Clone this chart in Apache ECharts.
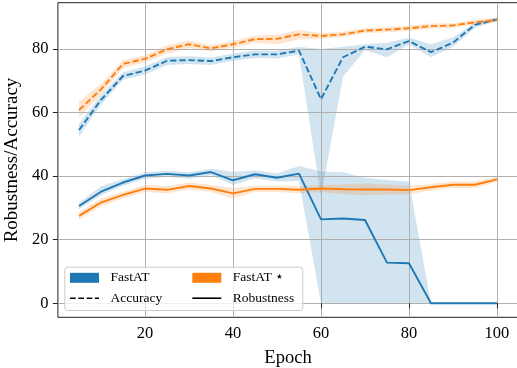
<!DOCTYPE html>
<html><head><meta charset="utf-8">
<script src="https://cdn.jsdelivr.net/npm/echarts@6/dist/echarts.min.js"></script>
<style>html,body{margin:0;padding:0;background:#fff}#c{width:517px;height:368px}</style>
</head><body><div id="c"></div>
<script>
const epochs = [5,10,15,20,25,30,35,40,45,50,55,60,65,70,75,80,85,90,95,100];

const fastAccMean = [54.5,64.0,71.5,73.2,76.3,76.5,76.2,77.4,78.3,78.3,79.5,64.2,77.4,80.7,79.9,82.5,79.0,82.0,87.6,89.3];
const fastAccLo   = [52.5,62.5,70.3,72.0,75.0,75.3,75.0,76.3,77.2,77.0,78.3,33.5,71.3,79.7,77.4,81.5,77.4,80.7,86.7,88.8];
const fastAccHi   = [56.5,65.5,72.7,74.5,77.5,77.7,77.3,78.6,79.5,79.5,80.6,80.0,80.7,81.5,82.0,83.5,81.5,83.6,88.3,89.8];

const fastRobMean = [30.6,35.1,38.0,40.2,40.7,40.2,41.3,38.7,40.6,39.5,40.8,26.4,26.7,26.2,12.8,12.6,0,0,0,0];
const fastRobLo   = [29.6,34.0,37.0,39.2,39.7,39.2,40.3,37.2,39.3,38.3,38.5,0,0,0,0,0,0,0,0,0];
const fastRobHi   = [31.6,36.8,39.0,41.2,41.7,41.2,42.3,41.4,41.8,40.8,43.2,41.5,41.2,39.5,38.8,38.2,0,0,0,0];

const starAccMean = [60.8,67.3,75.3,76.9,79.9,81.5,80.2,81.5,83.1,83.2,84.6,84.1,84.6,85.8,86.1,86.5,87.2,87.4,88.4,89.1];
const starAccLo   = [58.5,65.5,74.0,75.8,78.5,80.3,79.2,80.4,82.0,81.5,83.0,83.2,83.8,85.0,85.3,85.7,86.4,86.7,87.6,88.4];
const starAccHi   = [63.5,69.0,76.5,78.0,81.2,82.7,81.2,82.6,84.2,84.5,86.0,85.0,85.4,86.6,86.9,87.3,88.0,88.1,89.2,89.8];

const starRobMean = [27.5,31.7,34.1,36.1,35.7,36.9,36.1,34.6,36.0,36.0,35.7,36.1,35.9,35.8,35.8,35.6,36.5,37.3,37.3,39.0];
const starRobLo   = [26.3,30.5,33.0,35.0,34.6,35.8,35.0,33.0,35.0,35.0,34.6,35.0,34.4,34.0,34.2,34.3,35.5,36.3,36.3,38.2];
const starRobHi   = [28.7,32.9,35.2,37.2,36.8,38.0,37.2,36.3,37.0,37.0,36.8,37.2,37.4,37.7,37.4,37.0,37.5,38.3,38.3,39.8];

const xTicks = [20,40,60,80,100];
const yTicks = [0,20,40,60,80];

const BLUE = '#1f77b4', ORANGE = '#ff7f0e';
const FONT = "'Liberation Serif','DejaVu Serif',serif";
const DASH = [6.4,2.8];

function pairs(vals){ return epochs.map((e,i)=>[e, vals[i]]); }

function band(id, lo, hi, fill){
  return {name:id, type:'custom', silent:true, z:-1, animation:false, clip:true,
    data: epochs.map((e,i)=>[e, lo[i], hi[i]]),
    encode:{x:0, y:[1,2]},
    renderItem: function(params, api){
      if (params.dataIndex !== 0) return;
      const pts = [];
      for (let i = 0; i < epochs.length; i++) pts.push(api.coord([epochs[i], hi[i]]));
      for (let i = epochs.length - 1; i >= 0; i--) pts.push(api.coord([epochs[i], lo[i]]));
      return {type:'polygon', shape:{points:pts}, style:{fill:fill, stroke:null}};
    }};
}
function meanLine(id, vals, color, dashed, z){
  return {name:id, type:'line', data:pairs(vals), symbol:'none', silent:true, z:z, animation:false,
    lineStyle:{color:color, width:1.9, type: dashed ? DASH : 'solid', cap:'butt'}};
}

const series = [
  band('fa', fastAccLo, fastAccHi, 'rgba(31,119,180,0.2)'),
  band('fr', fastRobLo, fastRobHi, 'rgba(31,119,180,0.2)'),
  band('sa', starAccLo, starAccHi, 'rgba(255,127,14,0.2)'),
  band('sr', starRobLo, starRobHi, 'rgba(255,127,14,0.2)'),
  meanLine('FastAT acc', fastAccMean, BLUE, true, 2),
  meanLine('FastAT rob', fastRobMean, BLUE, false, 2),
  meanLine('FastAT* acc', starAccMean, ORANGE, true, 3),
  meanLine('FastAT* rob', starRobMean, ORANGE, false, 3),
  {name:'FastAT', type:'line', data:[], color:BLUE},
  {name:'FastAT ⋆', type:'line', data:[], color:ORANGE},
  {name:'Accuracy', type:'line', data:[], color:'#000'},
  {name:'Robustness', type:'line', data:[], color:'#000'}
];

const dashIcon = 'path://M0,0h5.7v1.6h-5.7z M8.3,0h5.7v1.6h-5.7z M16.6,0h5.7v1.6h-5.7z M24.9,0h4.1v1.6h-4.1z';
const solidIcon = 'path://M0,0h29v1.6h-29z';

function leg(name, icon, left, top){
  return {data:[{name:name, icon:icon}], left:left, top:top, padding:0, itemWidth:29, itemHeight:10,
    selectedMode:false, z:60, symbolKeepAspect:true, itemStyle:{borderWidth:0},
    textStyle:{fontFamily:FONT, fontSize:13.5, color:'#000', padding:[0,0,0,6.5]}};
}

const option = {
  animation:false,
  backgroundColor:'#fff',
  grid:{left:57.9, right:-1.1, top:2.7, bottom:50.7, show:true, borderColor:'#222', borderWidth:1,
        backgroundColor:'transparent', containLabel:false, outerBoundsMode:'none'},
  xAxis:{type:'value', min:0.2, max:104.8,
    axisLine:{show:false},
    axisTick:{show:true, customValues:xTicks, length:5, lineStyle:{color:'#222', width:1}},
    axisLabel:{customValues:xTicks, fontFamily:FONT, fontSize:16.5, color:'#000', margin:8},
    splitLine:{show:true, lineStyle:{color:'#b0b0b0', width:1}},
    name:'Epoch', nameLocation:'middle', nameGap:31,
    nameTextStyle:{fontFamily:FONT, fontSize:18.5, color:'#000'}},
  yAxis:{type:'value', min:-4.4, max:94.56,
    axisLine:{show:false},
    axisTick:{show:true, customValues:yTicks, length:5, lineStyle:{color:'#222', width:1}},
    axisLabel:{customValues:yTicks, fontFamily:FONT, fontSize:16.5, color:'#000', margin:9.4},
    splitLine:{show:true, lineStyle:{color:'#b0b0b0', width:1}},
    name:'Robustness/Accuracy', nameLocation:'middle', nameGap:36,
    nameTextStyle:{fontFamily:FONT, fontSize:19, color:'#000'}},
  legend:[
    leg('FastAT','rect',70,270.8),
    leg('FastAT ⋆','rect',192.3,270.8),
    leg('Accuracy',dashIcon,70,291.2),
    leg('Robustness',solidIcon,192.3,291.2)
  ],
  graphic:[{type:'rect', left:64.3, top:266.7, z:50, silent:true,
    shape:{width:238, height:43.3, r:3},
    style:{fill:'rgba(255,255,255,0.8)', stroke:'#cccccc', lineWidth:1}}],
  series:series
};
const chart = echarts.init(document.getElementById('c'), null, {renderer:'canvas'});
chart.setOption(option);
</script></body></html>
